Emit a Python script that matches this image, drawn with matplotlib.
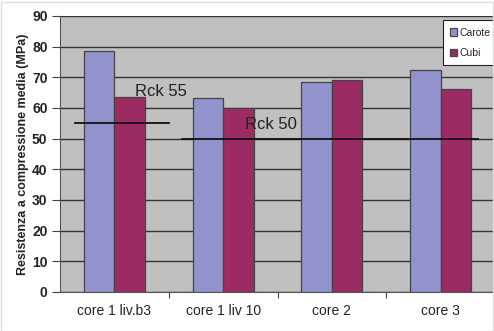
import numpy as np
import matplotlib.pyplot as plt
from matplotlib.patches import Rectangle

plt.rcParams['font.family'] = ['Liberation Sans', 'DejaVu Sans']

categories = ['core 1 liv.b3', 'core 1 liv 10', 'core 2', 'core 3']
carote = [78.5, 63.2, 68.3, 72.3]
cubi = [63.5, 60.0, 69.2, 66.2]
rck_labels = ['Rck 55', 'Rck 50']
rck_values = [55, 50]

fig = plt.figure(figsize=(4.94, 3.31), dpi=100)
ax = fig.add_axes([0.1215, 0.118, 0.885, 0.834])
ax.set_facecolor('#c0c0c0')

x = np.arange(len(categories))
w = 0.28
ax.bar(x - w / 2, carote, w, color='#9292cc', edgecolor='#444444', linewidth=0.9,
       label='Carote', zorder=3)
ax.bar(x + w / 2, cubi, w, color='#9b2b62', edgecolor='#444444', linewidth=0.9,
       label='Cubi', zorder=3)

# reference lines
ax.plot([-0.36, 0.5], [rck_values[0]] * 2, color='#111111', lw=1.3, zorder=4)
ax.plot([0.62, 3.34], [rck_values[1]] * 2, color='#111111', lw=1.3, zorder=4)
ax.text(0.43, 65.3, rck_labels[0], fontsize=12, color='#222222', ha='center',
        va='center', zorder=5)
ax.text(1.44, 54.5, rck_labels[1], fontsize=12, color='#222222', ha='center',
        va='center', zorder=5)

ax.set_ylim(0, 90)
ax.set_xlim(-0.5, 3.52)
ax.set_yticks(range(0, 91, 10))
ax.yaxis.grid(True, color='#333333', linewidth=1.0, zorder=1)
ax.set_axisbelow(True)

ax.set_xticks([0.5, 1.5, 2.5], minor=False)
ax.set_xticklabels([])
ax.set_xticks(x, minor=True)
ax.set_xticklabels(categories, minor=True, fontsize=10, color='#222222')
ax.tick_params(axis='x', which='minor', length=0, pad=9)
ax.tick_params(axis='x', which='major', length=4, color='#444444')
ax.tick_params(axis='y', length=6, color='#444444', labelsize=10, pad=3)
for lbl in ax.get_yticklabels():
    lbl.set_fontweight('bold')
    lbl.set_color('#222222')

for s in ['top', 'right']:
    ax.spines[s].set_visible(False)
ax.spines['left'].set_color('#555555')
ax.spines['bottom'].set_color('#555555')

ax.set_ylabel('Resistenza a compressione media (MPa)', fontsize=9,
              fontweight='bold', color='#222222', labelpad=2)

leg = ax.legend(loc='upper left', bbox_to_anchor=(0.868, 0.995), fontsize=7.5,
                frameon=True, fancybox=False, edgecolor='#222222',
                handlelength=0.7, handleheight=0.7, handletextpad=0.25,
                borderpad=0.7, borderaxespad=0.3, labelspacing=1.0)
leg.get_frame().set_linewidth(0.8)
leg.get_frame().set_alpha(1)
for t in leg.get_texts():
    t.set_color('#3a1a2a')

fig.patches.append(Rectangle((0.003, 0.0), 0.994, 0.995, transform=fig.transFigure,
                             fill=False, edgecolor='#dddddd', lw=1.0))

fig.savefig('out.png', dpi=100)
